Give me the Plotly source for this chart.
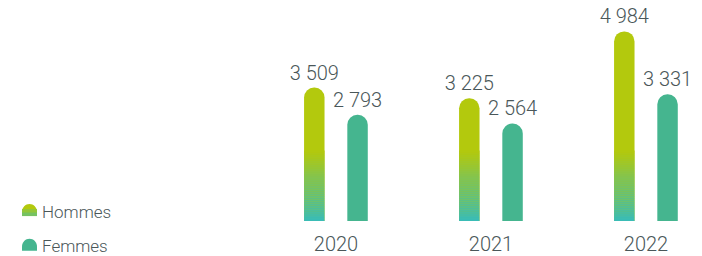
import plotly.graph_objects as go

years = ["2020", "2021", "2022"]
hommes = [3509, 3225, 4984]
femmes = [2793, 2564, 3331]
series_names = ["Hommes", "Femmes"]

C_TOP = "#b3c90d"
C_BOTTOM = "#38bcb8"
C_FEM = "#45b58f"
TXT = "#4a5759"
FONT = "Roboto"

GRAD_H = 1850  # height (in value units) of the gradient zone at the bar foot
N_SEG = 36
W = 0.132
OFF_H = -0.206
OFF_F = 0.073

FW, FH = 702, 256
BASE = 223          # baseline, px from top
PXU = 0.03838       # px per value unit
CAT0, CATSTEP = 336, 155


def hex2rgb(h):
    h = h.lstrip("#")
    return [int(h[i:i + 2], 16) for i in (0, 2, 4)]


def mix(c1, c2, t):
    a, b = hex2rgb(c1), hex2rgb(c2)
    return "rgb(%d,%d,%d)" % tuple(round(a[i] + (b[i] - a[i]) * t) for i in range(3))


def fmt(v):
    return f"{v:,}".replace(",", " ")


fig = go.Figure()

fig.add_trace(go.Bar(
    name=series_names[0], x=years, y=hommes, width=W, offset=OFF_H,
    marker=dict(color=C_TOP, cornerradius="50%", line=dict(width=0)),
    text=[fmt(v) for v in hommes], textposition="outside", constraintext="none",
    textfont=dict(family=FONT, size=20, color=TXT, weight=300),
    cliponaxis=False, showlegend=False,
))

seg = GRAD_H / N_SEG
for i in range(N_SEG):
    t = (i + 0.5) / N_SEG
    fig.add_trace(go.Bar(
        x=years, y=[seg * 1.05] * len(years), base=[seg * i] * len(years),
        width=W, offset=OFF_H,
        marker=dict(color=mix(C_BOTTOM, C_TOP, t), line=dict(width=0)),
        showlegend=False, hoverinfo="skip",
    ))

fig.add_trace(go.Bar(
    name=series_names[1], x=years, y=femmes, width=W, offset=OFF_F,
    marker=dict(color=C_FEM, cornerradius="50%", line=dict(width=0)),
    text=[fmt(v) for v in femmes], textposition="outside", constraintext="none",
    textfont=dict(family=FONT, size=20, color=TXT, weight=300),
    cliponaxis=False, showlegend=False,
))


# custom legend (positions given in page pixels)
def px(x):
    return x / FW


def py(y):
    return (BASE - y) / BASE


dome = "M 0,0 L 0,4 C 0,8.5 3.4,12 7.5,12 C 11.6,12 15,8.5 15,4 L 15,0 Z"
fig.add_shape(type="path", path=dome, xref="paper", yref="paper",
              xsizemode="pixel", ysizemode="pixel", xanchor=px(22), yanchor=py(218),
              fillcolor=C_TOP, line=dict(width=0))
fig.add_shape(type="path", path="M 0,0 L 0,7 L 15,7 L 15,0 Z", xref="paper", yref="paper",
              xsizemode="pixel", ysizemode="pixel", xanchor=px(22), yanchor=py(218),
              fillcolor=mix(C_BOTTOM, C_TOP, 0.75), line=dict(width=0))
fig.add_shape(type="path", path="M 0,0 L 0,3.5 L 15,3.5 L 15,0 Z", xref="paper", yref="paper",
              xsizemode="pixel", ysizemode="pixel", xanchor=px(22), yanchor=py(218),
              fillcolor=mix(C_BOTTOM, C_TOP, 0.5), line=dict(width=0))
fig.add_shape(type="path", path=dome, xref="paper", yref="paper",
              xsizemode="pixel", ysizemode="pixel", xanchor=px(22), yanchor=py(253),
              fillcolor=C_FEM, line=dict(width=0))

for name, yc in zip(series_names, [213.5, 248]):
    fig.add_annotation(text=name, x=px(40), y=py(yc), xref="paper", yref="paper",
                       xanchor="left", yanchor="middle", showarrow=False,
                       font=dict(family=FONT, size=17, color=TXT, weight=300))

fig.update_layout(
    width=FW, height=FH,
    margin=dict(l=0, r=0, t=0, b=FH - BASE),
    barmode="overlay",
    paper_bgcolor="white", plot_bgcolor="white",
    xaxis=dict(type="category", range=[-CAT0 / CATSTEP, 2 + (FW - (CAT0 + 2 * CATSTEP)) / CATSTEP],
               showgrid=False, zeroline=False, showline=False, ticks="",
               ticklabelstandoff=9, fixedrange=True,
               tickfont=dict(family=FONT, size=20, color=TXT, weight=300)),
    yaxis=dict(range=[0, BASE / PXU], visible=False, showgrid=False, zeroline=False,
               fixedrange=True),
    showlegend=False,
    hovermode=False,
)

fig.write_html("out.html", config={"displayModeBar": False, "staticPlot": True},
               post_script="document.body.style.margin='0px';")
